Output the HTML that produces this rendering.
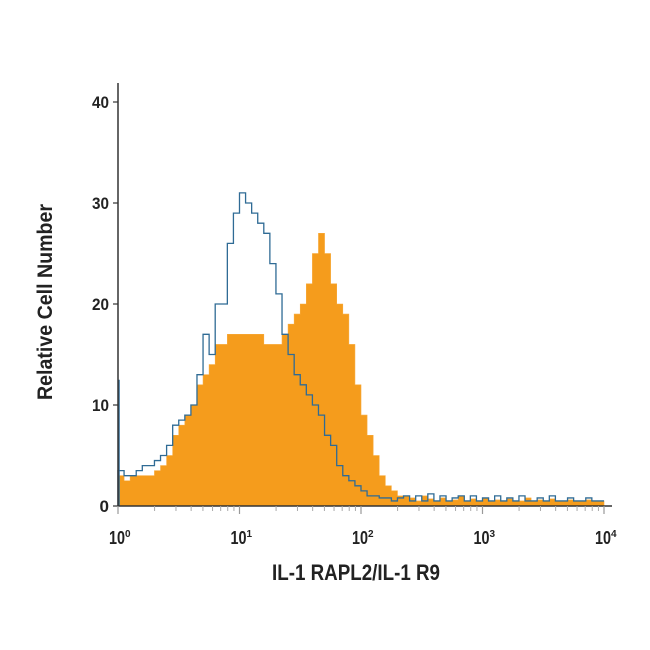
<!DOCTYPE html>
<html><head><meta charset="utf-8">
<style>
html,body{margin:0;padding:0;background:#fff;}
svg{display:block;}
text{font-family:"Liberation Sans Narrow","Liberation Sans",sans-serif;font-weight:bold;fill:#222;}
</style></head>
<body>
<svg id="chart" width="650" height="650" viewBox="0 0 650 650"></svg>
<script>
// data: 80 bins, 0.05 decade each, from 10^0 to 10^4
const binStart = 0;      // log10 of first bin start
const binWidthLog = 0.05;
const orangeCounts = [3,2.5,3,3,3,3,3.5,4,5,7,8,9,10,12,13,14,16,16,17,17,17,17,17,17,16,16,16,17,18,19,20,22,25,27,25,22,20,19,16,12,9,7,5,3,2,1.5,1,1,0.8,0.5,1,0.7,0.5,0.8,0.5,0.6,1,0.5,0.7,0.5,0.8,0.5,0.6,0.5,0.7,0.5,0.5,0.8,0.5,0.6,0.5,0.7,0.5,0.5,0.6,0.5,0.5,0.6,0.5,0.5];
const blueCounts = [3.5,3,3,3.5,4,4,4.5,5,6,8,8.5,9,10,13,17,15,20,20,26,29,31,30,29,28,27,24,21,17,15,13,12,11,10,9,7,6,4,3,2.5,2,1.5,1,1,0.8,0.8,0.5,0.8,1,0.5,1,0.5,1.2,0.5,1,0.5,0.8,1,0.5,1,0.5,0.8,0.5,1,0.5,0.8,0.5,1,0.5,0.5,0.8,0.5,1,0.5,0.5,0.8,0.5,0.5,0.8,0.5,0.5];
const yTicks = [0,10,20,30,40];
const xDecades = [0,1,2,3,4];

const X0=118, DEC=121.5, Y0=506, YPX=10.1;
const xs = l => X0 + l*DEC;
const ys = v => Y0 - v*YPX;
const NS="http://www.w3.org/2000/svg";
const svg=document.getElementById('chart');
function el(tag,attrs,parent){const e=document.createElementNS(NS,tag);for(const k in attrs)e.setAttribute(k,attrs[k]);(parent||svg).appendChild(e);return e;}

function stepPath(vals){
  let d='M'+xs(binStart)+','+Y0;
  vals.forEach((v,i)=>{const a=xs(binStart+i*binWidthLog),b=xs(binStart+(i+1)*binWidthLog);d+=' L'+a+','+ys(v)+' L'+b+','+ys(v);});
  return d;
}
const orange=el('path',{d:stepPath(orangeCounts)+' L'+xs(binStart+orangeCounts.length*binWidthLog)+','+Y0+' Z',fill:'#f59c1c',stroke:'#f7a93a','stroke-width':0.6});


const spike=el('line',{x1:X0+1,y1:ys(12.5),x2:X0+1,y2:Y0,stroke:'#2f6b95','stroke-width':1.5});


const blue=el('path',{d:stepPath(blueCounts),fill:'none',stroke:'#2f6b95','stroke-width':1.3});



// axes
const yAxis=el('line',{x1:X0,y1:83,x2:X0,y2:Y0,stroke:'#333','stroke-width':1.5});


const xAxis=el('line',{x1:X0,y1:Y0,x2:612,y2:Y0,stroke:'#333','stroke-width':1.5});



yTicks.forEach(t=>{
  const tk=el('line',{x1:X0-5,y1:ys(t),x2:X0,y2:ys(t),stroke:'#333','stroke-width':1.2});
  
  
  const lb=el('text',{x:X0-9,y:ys(t)+6,'text-anchor':'end','font-size':17});
  lb.textContent=t;
  if(String(t).length===2){lb.setAttribute('textLength',17);lb.setAttribute('lengthAdjust','spacingAndGlyphs');}
  
  
});
xDecades.forEach(d=>{
  const tk=el('line',{x1:xs(d),y1:Y0,x2:xs(d),y2:Y0+8,stroke:'#999','stroke-width':1.2});
  
  
  if(d<4){for(let m=2;m<=9;m++){
    const mt=el('line',{x1:xs(d+Math.log10(m)),y1:Y0,x2:xs(d+Math.log10(m)),y2:Y0+5,stroke:'#aaa','stroke-width':1});
    
    
  }}
  const lb=el('text',{x:xs(d)-9,y:Y0+38,'font-size':18});
  
  
  const base=el('tspan',{textLength:16,lengthAdjust:'spacingAndGlyphs'},lb);
  base.textContent='10';
  const sup=el('tspan',{dy:-7,'font-size':10},lb);
  sup.textContent=d;
});
const xt=el('text',{x:272,y:580,'font-size':22,textLength:168,lengthAdjust:'spacingAndGlyphs'});
xt.textContent='IL-1 RAPL2/IL-1 R9';


const yt=el('text',{x:0,y:0,'text-anchor':'middle','font-size':21,textLength:196,lengthAdjust:'spacingAndGlyphs',transform:'translate(52,302) rotate(-90)'});
yt.textContent='Relative Cell Number';


</script>
</body></html>
